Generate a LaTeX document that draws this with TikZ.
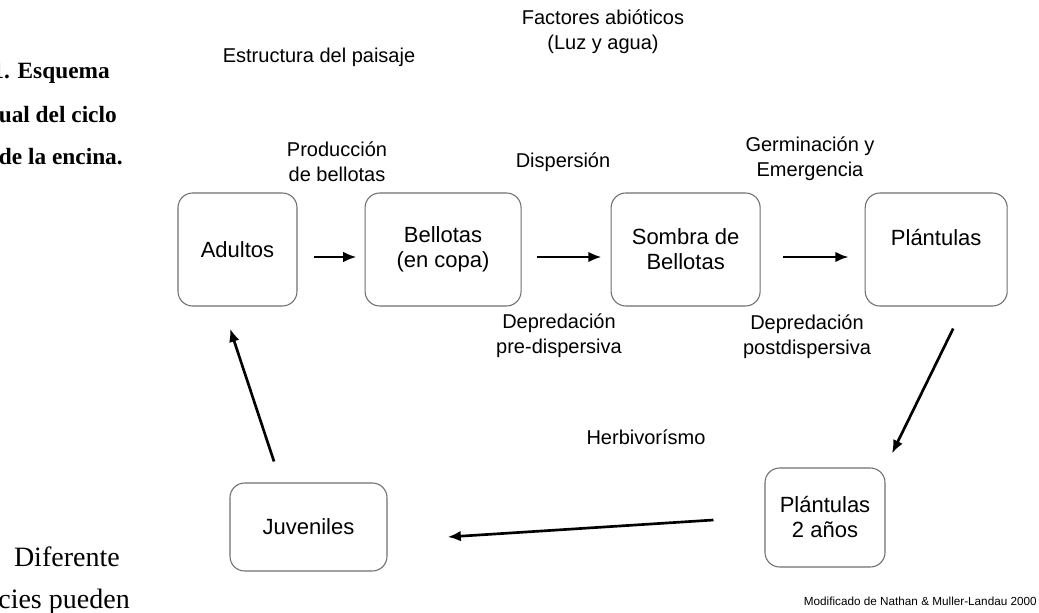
\documentclass[tikz,border=0pt]{standalone}
\usepackage{fontspec}
\setmainfont{Liberation Sans}
\newfontfamily\timesfont{Liberation Serif}
\usepackage{tikz}
\usetikzlibrary{arrows.meta, positioning, calc}
\definecolor{boxgray}{HTML}{6E6E6E}

\begin{document}
\begin{tikzpicture}[
        x=0.75pt, y=-0.75pt,
        node distance=50pt,
        stage/.style={rectangle, draw=boxgray, line width=0.8pt, rounded corners=11pt, align=center, minimum height=84.75pt, font=\fontsize{16.5pt}{18.75pt}\selectfont, inner sep=2pt},
        factor/.style={align=center, inner sep=0pt, font=\fontsize{15pt}{18.75pt}\selectfont},
        caption/.style={anchor=east, inner sep=0pt, font=\timesfont\fontsize{17.5pt}{20pt}\selectfont\bfseries},
        flow/.style={-{Latex[length=10pt, width=8pt]}, line width=2pt}
    ]
    \useasboundingbox (0,0) rectangle (1039,613);

    % cycle stages
    \node[stage, minimum width=89.25pt] (adultos) at (237.5,249.5) {Adultos};
    \node[stage, minimum width=117pt, right=50.25pt of adultos] (bellotas) {Bellotas\\(en copa)};
    \node[stage, minimum width=111.75pt, right=66.75pt of bellotas] (sombra) {Sombra de\\Bellotas};
    \node[stage, minimum width=106.5pt, right=78pt of sombra] (plantulas) {Plántulas\\\mbox{}};
    \node[stage, minimum width=90pt, minimum height=74.25pt] (plantulasdos) at (825,517.5) {Plántulas\\2 años};
    \node[stage, minimum width=117.75pt, minimum height=66pt] (juveniles) at (308.5,527) {Juveniles};

    % processes and factors
    \node[factor] (abioticos) at (603,32) {Factores abióticos\\(Luz y agua)};
    \node[factor] (paisaje) at (319,57) {Estructura del paisaje};
    \node[factor] (produccion) at (337,162) {Producción\\de bellotas};
    \node[factor] (dispersion) at (563,162) {Dispersión};
    \node[factor] (germinacion) at (810,159) {Germinación y\\Emergencia};
    \node[factor] (predisp) at (559,336) {Depredación\\pre-dispersiva};
    \node[factor] (postdisp) at (807,337) {Depredación\\postdispersiva};
    \node[factor] (herbivorismo) at (646,437) {Herbivorísmo};
    \node[anchor=east, inner sep=0pt, font=\fontsize{8.8pt}{10pt}\selectfont] (fuente) at (1037,601) {Modificado de Nathan \& Muller-Landau 2000};

    % surrounding page text
    \node[caption] (capuno) at (110,73) {1. Esquema};
    \node[caption] (capdos) at (117,115) {ual del ciclo};
    \node[caption] (captres) at (123,157) {de la encina.};
    \node[anchor=east, inner sep=0pt, font=\timesfont\fontsize{21pt}{24pt}\selectfont] (difuno) at (120,557) {Diferente};
    \node[anchor=east, inner sep=0pt, font=\timesfont\fontsize{21pt}{24pt}\selectfont] (difdos) at (130,602) {cies pueden};

    \draw[flow] ($(adultos.east)+(16,7.5)$) -- ($(bellotas.west)+(-8,7.5)$);
    \draw[flow] ($(bellotas.east)+(15,7.5)$) -- ($(sombra.west)+(-9,7.5)$);
    \draw[flow] ($(sombra.east)+(22,7.5)$) -- ($(plantulas.west)+(-16,7.5)$);
    \draw[flow] ($(plantulas.south)+(17,22)$) -- ($(plantulasdos.north)+(67,-14)$);
    \draw[flow] ($(plantulasdos.west)+(-51,2.5)$) -- ($(juveniles.east)+(60,10)$);
    \draw[flow] ($(juveniles.north)+(-34.5,-21)$) -- ($(adultos.south)+(-7.5,22)$);
\end{tikzpicture}
\end{document}
